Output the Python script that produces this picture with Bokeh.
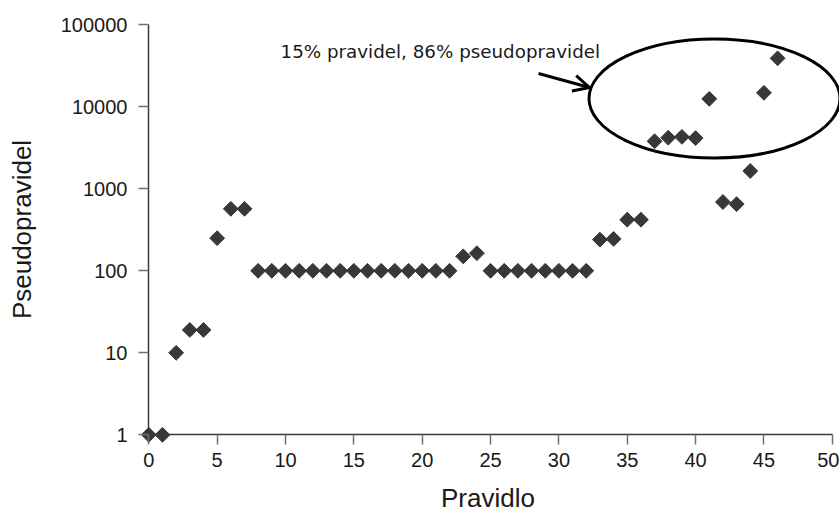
import numpy as np
from bokeh.plotting import figure
from bokeh.models import (Range1d, FixedTicker, Label, Arrow, OpenHead, NumeralTickFormatter,
                          CustomJSTickFormatter, LinearAxis, LogAxis)
from bokeh.embed import file_html
from bokeh.resources import INLINE

# ---- data ----
rule_index = [0, 1, 2, 3, 4, 5, 6, 7, 8, 9, 10, 11, 12, 13, 14, 15, 16, 17, 18, 19,
              20, 21, 22, 23, 24, 25, 26, 27, 28, 29, 30, 31, 32, 33, 34, 35, 36, 37,
              38, 39, 40, 41, 42, 43, 44, 45, 46]
pseudo_rules = [1, 1, 10, 19, 19, 250, 570, 570, 100, 100, 100, 100, 100, 100, 100, 100,
                100, 100, 100, 100, 100, 100, 100, 150, 164, 100, 100, 100, 100, 100,
                100, 100, 100, 240, 245, 420, 420, 3800, 4200, 4300, 4150, 12500, 690,
                650, 1650, 14800, 39000]
x_ticks = [0, 5, 10, 15, 20, 25, 30, 35, 40, 45, 50]
y_ticks = [1, 10, 100, 1000, 10000, 100000]
x_label = "Pravidlo"
y_label = "Pseudopravidel"
note_text = "15% pravidel, 86% pseudopravidel"

# ---- pixel geometry (canvas px) ----
X0_PX, PX_PER_X = 148.3, 13.67
Y1_PX, PX_PER_DEC = 434.3, 82.0

def dx(px):
    return (px - X0_PX) / PX_PER_X

def dy(py):
    return 10 ** ((Y1_PX - py) / PX_PER_DEC)

W, H = 839, 515
ML, MT, MB, MR = 136, 10, 67, 0
frame_left, frame_right = ML, W - MR
frame_top, frame_bottom = MT, H - MB

p = figure(width=W, height=H, y_axis_type="log",
           x_axis_location="above", y_axis_location="right",
           x_range=Range1d(dx(frame_left), dx(frame_right)),
           y_range=Range1d(dy(frame_bottom), dy(frame_top)),
           output_backend="svg", toolbar_location=None,
           min_border_left=ML, min_border_right=MR, min_border_top=MT, min_border_bottom=MB)
p.outline_line_color = None
p.xgrid.visible = False
p.ygrid.visible = False
p.background_fill_color = "white"
p.border_fill_color = "white"

blank = CustomJSTickFormatter(code="return '';")

# axis lines + tick marks, drawn through the data origin
x_line_axis = p.above[0]
y_line_axis = p.right[0]
x_line_axis.fixed_location = 1
y_line_axis.fixed_location = 0
x_line_axis.bounds = (x_ticks[0], x_ticks[-1])
y_line_axis.bounds = (y_ticks[0], y_ticks[-1])
x_line_axis.ticker = FixedTicker(ticks=x_ticks, minor_ticks=[])
y_line_axis.ticker = FixedTicker(ticks=y_ticks, minor_ticks=[])
for ax in (x_line_axis, y_line_axis):
    ax.formatter = blank
    ax.major_label_text_font_size = "0px"
    ax.major_label_standoff = 0
    ax.axis_line_color = "#3a3a3a"
    ax.axis_line_width = 1.5
    ax.major_tick_line_color = "#707070"
    ax.major_tick_line_width = 1.5
    ax.major_tick_in = 10
    ax.major_tick_out = 0
    ax.minor_tick_line_color = None

# tick labels + axis titles
x_lab_axis = LinearAxis(ticker=FixedTicker(ticks=x_ticks, minor_ticks=[]), axis_label=x_label)
y_lab_axis = LogAxis(ticker=FixedTicker(ticks=y_ticks, minor_ticks=[]), axis_label=y_label,
                     formatter=NumeralTickFormatter(format="0"))
p.add_layout(x_lab_axis, "below")
p.add_layout(y_lab_axis, "left")
for ax in (x_lab_axis, y_lab_axis):
    ax.axis_line_color = None
    ax.major_tick_line_color = None
    ax.minor_tick_line_color = None
    ax.major_tick_in = 0
    ax.major_tick_out = 0
    ax.major_label_text_font = "Liberation Sans"
    ax.major_label_text_font_size = "20px"
    ax.major_label_text_color = "#1a1a1a"
    ax.axis_label_text_font = "Liberation Sans"
    ax.axis_label_text_font_size = "26px"
    ax.axis_label_text_font_style = "normal"
    ax.axis_label_text_color = "#1a1a1a"
x_lab_axis.major_label_standoff = 4
y_lab_axis.major_label_standoff = 9
x_lab_axis.axis_label_standoff = 13
y_lab_axis.axis_label_standoff = 21

p.scatter(rule_index, pseudo_rules, marker="square", angle=np.pi / 4, size=10.5,
          fill_color="#383838", line_color="#383838")

# ellipse highlight
p.ellipse(x=[dx(714)], y=[dy(98)], width=251, height=119,
          width_units="screen", height_units="screen",
          fill_color=None, line_color="black", line_width=3)

p.add_layout(Arrow(end=OpenHead(size=16, line_width=3, line_color="black"),
                   x_start=dx(538), y_start=dy(73), x_end=dx(589), y_end=dy(87),
                   line_width=3, line_color="black"))

p.add_layout(Label(x=dx(280), y=dy(51), text=note_text, text_font="DejaVu Sans",
                   text_font_size="18.3px", text_color="#1a1a1a",
                   text_align="left", text_baseline="alphabetic"))

open("out.html", "w").write(file_html(p, INLINE))
